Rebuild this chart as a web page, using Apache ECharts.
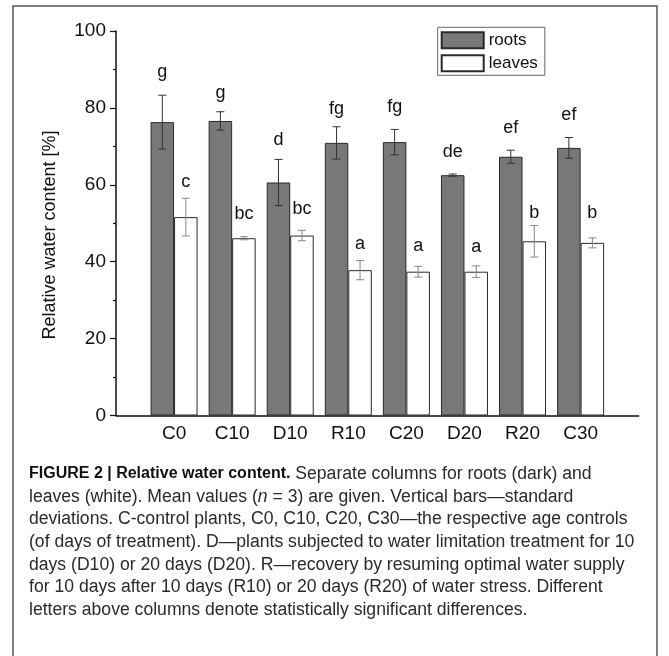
<!DOCTYPE html>
<html><head><meta charset="utf-8">
<script src="https://cdn.jsdelivr.net/npm/echarts@6/dist/echarts.min.js"></script>
<style>html,body{margin:0;padding:0;background:#fff}#c{width:669px;height:656px}</style>
</head><body><div id="c"></div>
<script>
// ---- data ----
const categories = ['C0', 'C10', 'D10', 'R10', 'C20', 'D20', 'R20', 'C30'];
const rootsMean = [76.3, 76.6, 60.6, 70.9, 71.1, 62.5, 67.3, 69.6];
const rootsSD = [7.0, 2.4, 6.0, 4.2, 3.3, 0.3, 1.7, 2.7];
const leavesMean = [51.6, 46.1, 46.8, 37.8, 37.4, 37.4, 45.3, 44.9];
const leavesSD = [4.9, 0.4, 1.35, 2.5, 1.4, 1.5, 4.1, 1.3];
const rootsLetters = ['g', 'g', 'd', 'fg', 'fg', 'de', 'ef', 'ef'];
const leavesLetters = ['c', 'bc', 'bc', 'a', 'a', 'a', 'b', 'b'];
const rootsLetterY = [89.4, 83.8, 71.7, 79.6, 80.2, 68.5, 74.7, 78.2];
const leavesLetterY = [60.6, 52.3, 53.7, 44.6, 44.2, 43.7, 52.7, 52.6];
const yMin = 0, yMax = 100, yStep = 20;
const yTitle = 'Relative water content [%]';
const captionLines = [
  [['b', 'FIGURE 2 | Relative water content.'], ['r', ' Separate columns for roots (dark) and']],
  [['r', 'leaves (white). Mean values ('], ['i', 'n'], ['r', ' = 3) are given. Vertical bars\u2014standard']],
  [['r', 'deviations. C-control plants, C0, C10, C20, C30\u2014the respective age controls']],
  [['r', '(of days of treatment). D\u2014plants subjected to water limitation treatment for 10']],
  [['r', 'days (D10) or 20 days (D20). R\u2014recovery by resuming optimal water supply']],
  [['r', 'for 10 days after 10 days (R10) or 20 days (R20) of water stress. Different']],
  [['r', 'letters above columns denote statistically significant differences.']]
];

// ---- styling ----
const FONT = "'Liberation Sans', Arial, Helvetica, sans-serif";
const BAR_W = 23.5;
const axisCats = [''].concat(categories, ['']);
const pad = arr => [null].concat(arr, [null]);

function errRender(offset, color) {
  return function (params, api) {
    const idx = api.value(0), m = api.value(1), sd = api.value(2);
    const t = api.coord([idx, m + sd]), b = api.coord([idx, m - sd]);
    const x = t[0] + offset, cap = 4;
    const st = { stroke: color, lineWidth: 1 };
    return { type: 'group', children: [
      { type: 'line', shape: { x1: x, y1: t[1], x2: x, y2: b[1] }, style: st },
      { type: 'line', shape: { x1: x - cap, y1: t[1], x2: x + cap, y2: t[1] }, style: st },
      { type: 'line', shape: { x1: x - cap, y1: b[1], x2: x + cap, y2: b[1] }, style: st }
    ]};
  };
}
function letterRender(offset, letters) {
  return function (params, api) {
    const p = api.coord([api.value(0), api.value(1)]);
    return { type: 'text', x: p[0] + offset, y: p[1], style: {
      text: letters[params.dataIndex], fill: '#111', fontSize: 18, fontFamily: FONT,
      align: 'center', verticalAlign: 'middle' } };
  };
}
const errData = (mean, sd) => mean.map((v, i) => [i + 1, v, sd[i]]);
const letterData = ys => ys.map((v, i) => [i + 1, v]);

const captionGraphics = captionLines.map((parts, k) => ({
  type: 'text', left: 29, top: 465 + k * 22.7,
  style: {
    text: parts.map(p => '{' + p[0] + '|' + p[1] + '}').join(''),
    rich: {
      r: { fontSize: 17.6, fontFamily: FONT, fill: '#2a2a2a' },
      b: { fontSize: 16, fontFamily: FONT, fill: '#111', fontWeight: 'bold' },
      i: { fontSize: 17.6, fontFamily: FONT, fill: '#2a2a2a', fontStyle: 'italic' }
    }
  }
}));

const chart = echarts.init(document.getElementById('c'), null, { renderer: 'canvas' });
chart.setOption({
  animation: false,
  backgroundColor: '#fff',
  textStyle: { fontFamily: FONT },
  grid: { left: 116, right: 30.3, top: 31, bottom: 240.5, containLabel: false },
  legend: {
    data: ['roots', 'leaves'], orient: 'vertical', left: 437.7, top: 27.3,
    itemWidth: 42, itemHeight: 16, itemGap: 5, icon: 'rect',
    borderColor: '#666', borderWidth: 1, padding: [4, 7, 3, 3],
    textStyle: { fontSize: 17, color: '#111', fontFamily: FONT }
  },
  xAxis: {
    type: 'category', data: axisCats, boundaryGap: false,
    axisLine: { lineStyle: { color: '#111', width: 1.5 } },
    axisTick: { show: false },
    axisLabel: { interval: 0, fontSize: 19, color: '#111', margin: 9, fontFamily: FONT }
  },
  yAxis: {
    type: 'value', min: yMin, max: yMax, interval: yStep,
    axisLine: { show: true, lineStyle: { color: '#111', width: 1.5 } },
    axisTick: { show: true, length: 6, lineStyle: { color: '#111', width: 1.2 } },
    minorTick: { show: true, splitNumber: 2, length: 3, lineStyle: { color: '#111', width: 1.2 } },
    splitLine: { show: false },
    axisLabel: { fontSize: 19, color: '#111', margin: 10, fontFamily: FONT }
  },
  graphic: [
    { type: 'rect', shape: { x: 13, y: 6, width: 644, height: 700 },
      style: { fill: 'none', stroke: '#555', lineWidth: 1.5 }, silent: true },
    { type: 'text', x: 50, y: 235, rotation: Math.PI / 2,
      style: { text: yTitle, fontSize: 18, fontFamily: FONT, fill: '#111',
        align: 'center', verticalAlign: 'middle' } }
  ].concat(captionGraphics),
  series: [
    { name: 'roots', type: 'bar', data: pad(rootsMean), barWidth: BAR_W, barGap: '0%',
      itemStyle: { color: '#787878', borderColor: '#2a2a2a', borderWidth: 1 } },
    { name: 'leaves', type: 'bar', data: pad(leavesMean), barWidth: BAR_W, barGap: '0%',
      itemStyle: { color: '#ffffff', borderColor: '#2a2a2a', borderWidth: 1 } },
    { type: 'custom', renderItem: errRender(-BAR_W / 2, '#333'), data: errData(rootsMean, rootsSD), z: 5 },
    { type: 'custom', renderItem: errRender(BAR_W / 2, '#888'), data: errData(leavesMean, leavesSD), z: 5 },
    { type: 'custom', renderItem: letterRender(-BAR_W / 2, rootsLetters), data: letterData(rootsLetterY), z: 5 },
    { type: 'custom', renderItem: letterRender(BAR_W / 2, leavesLetters), data: letterData(leavesLetterY), z: 5 }
  ]
});
</script></body></html>
